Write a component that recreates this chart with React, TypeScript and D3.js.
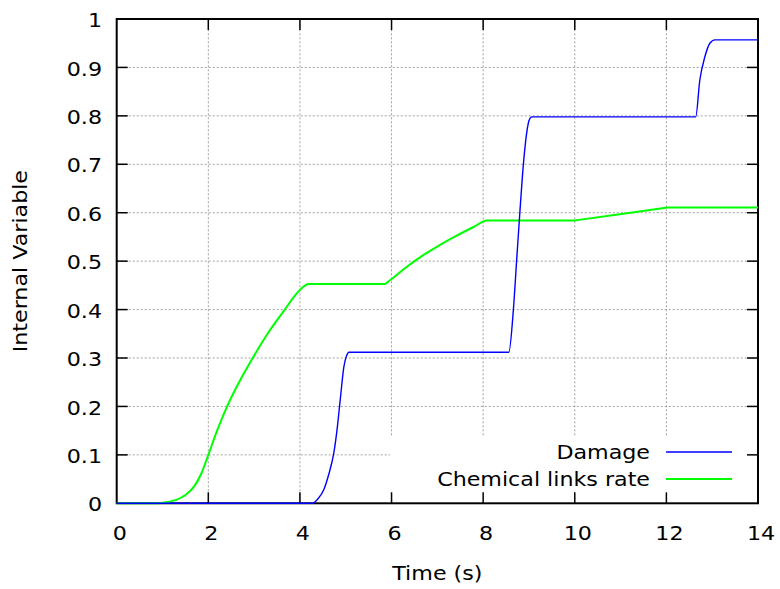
import React from "react";
import * as d3 from "d3";

const xTicks = [0, 2, 4, 6, 8, 10, 12, 14];
const yTicks = [0, 0.1, 0.2, 0.3, 0.4, 0.5, 0.6, 0.7, 0.8, 0.9, 1];
const yTickLabels = ["0", "0.1", "0.2", "0.3", "0.4", "0.5", "0.6", "0.7", "0.8", "0.9", "1"];

const damageT = [0, 4.27, 4.4, 4.52, 4.63, 4.74, 4.82, 4.88, 4.96, 5.02, 5.07, 8.56, 8.66, 8.73, 8.8, 8.88, 8.96, 9.0, 9.06, 12.64, 12.73, 12.84, 12.95, 13.06, 14];
const damageV = [0, 0, 0.01, 0.028, 0.06, 0.104, 0.16, 0.214, 0.282, 0.305, 0.312, 0.312, 0.4, 0.5, 0.599, 0.702, 0.771, 0.79, 0.798, 0.798, 0.874, 0.922, 0.95, 0.957, 0.957];

const chemT = [0, 0.9, 1.3, 1.5, 1.7, 1.85, 2.0, 2.2, 2.41, 2.7, 2.97, 3.3, 3.67, 3.9, 4.05, 4.18, 5.85, 5.97, 6.3, 6.7, 7.05, 7.43, 7.8, 8.08, 10.0, 10.05, 11.99, 12.04, 14];
const chemV = [0, 0, 0.007, 0.017, 0.036, 0.062, 0.1, 0.152, 0.2, 0.255, 0.3, 0.351, 0.4, 0.43, 0.445, 0.453, 0.453, 0.461, 0.486, 0.513, 0.533, 0.553, 0.571, 0.584, 0.584, 0.5847, 0.6103, 0.611, 0.611];

const seriesNames = ["Damage", "Chemical links rate"];
const seriesColors = ["#0000ff", "#00ff00"];

const W = 780;
const H = 589;
const L = 116.7;
const R = 758;
const T = 19;
const B = 503.3;
const FONT = "'DejaVu Sans', sans-serif";
const FS = 20;
const SX = 1.11;

type TProps = { x: number; y: number; anchor: string; rotate?: number; children: React.ReactNode };
function Txt({ x, y, anchor, rotate, children }: TProps) {
  const tr = `translate(${x},${y})${rotate ? ` rotate(${rotate})` : ""} scale(${SX},1)`;
  return (
    <text transform={tr} x={0} y={0} textAnchor={anchor} dominantBaseline="central">
      {children}
    </text>
  );
}

export default function App() {
  const x = d3.scaleLinear().domain([0, 14]).range([L, R]);
  const y = d3.scaleLinear().domain([0, 1]).range([B, T]);
  const line = d3
    .line<[number, number]>()
    .x((d) => x(d[0]))
    .y((d) => y(d[1]))
    .curve(d3.curveMonotoneX);
  const damage: [number, number][] = damageT.map((t, i) => [t, damageV[i]]);
  const chem: [number, number][] = chemT.map((t, i) => [t, chemV[i]]);
  const tickLen = 11;
  const legendBox = { x0: 390, y0: 437 };

  return (
    <div style={{ position: "absolute", left: 0, top: 0 }}>
      <svg width={W} height={H} style={{ display: "block", background: "#fff" }}>
        <rect x={0} y={0} width={W} height={H} fill="#fff" />
        {/* grid */}
        <g stroke="#a0a0a0" strokeWidth={1} strokeDasharray="2,2" fill="none">
          {xTicks.slice(1, -1).map((t) => (
            <line key={"gx" + t} x1={x(t)} x2={x(t)} y1={B} y2={T} />
          ))}
          {yTicks.slice(1, -1).map((t) => (
            <line key={"gy" + t} x1={L} x2={R} y1={y(t)} y2={y(t)} />
          ))}
        </g>
        {/* legend opaque box */}
        <rect x={legendBox.x0} y={legendBox.y0} width={R - legendBox.x0} height={B - legendBox.y0} fill="#fff" />
        {/* ticks */}
        <g stroke="#000" strokeWidth={1.5}>
          {xTicks.slice(1, -1).map((t) => (
            <g key={"tx" + t}>
              <line x1={x(t)} x2={x(t)} y1={B} y2={B - tickLen} />
              <line x1={x(t)} x2={x(t)} y1={T} y2={T + tickLen} />
            </g>
          ))}
          {yTicks.slice(1, -1).map((t) => (
            <g key={"ty" + t}>
              <line x1={L} x2={L + tickLen} y1={y(t)} y2={y(t)} />
              <line x1={R} x2={R - tickLen} y1={y(t)} y2={y(t)} />
            </g>
          ))}
        </g>
        {/* border */}
        <rect x={L} y={T} width={R - L} height={B - T} fill="none" stroke="#000" strokeWidth={2} />
        {/* series */}
        <path d={line(chem) || ""} fill="none" stroke={seriesColors[1]} strokeWidth={2} />
        <path d={line(damage) || ""} fill="none" stroke={seriesColors[0]} strokeWidth={1.4} />
        {/* tick labels */}
        <g fontFamily={FONT} fontSize={FS} fill="#000">
          {xTicks.map((t) => (
            <Txt key={"lx" + t} x={x(t) + 3} y={533} anchor="middle">
              {String(t)}
            </Txt>
          ))}
          {yTicks.map((t, i) => (
            <Txt key={"ly" + t} x={102} y={y(t) + 1} anchor="end">
              {yTickLabels[i]}
            </Txt>
          ))}
          <Txt x={(L + R) / 2} y={573} anchor="middle">
            Time (s)
          </Txt>
          <Txt x={20} y={(T + B) / 2} anchor="middle" rotate={-90}>
            Internal Variable
          </Txt>
        </g>
        {/* legend */}
        <g fontFamily={FONT} fontSize={FS} fill="#000">
          {seriesNames.map((n, i) => {
            const ly = 452 + i * 27;
            return (
              <g key={n}>
                <Txt x={650} y={ly} anchor="end">
                  {n}
                </Txt>
                <line x1={666} x2={732} y1={ly} y2={ly} stroke={seriesColors[i]} strokeWidth={i === 1 ? 2 : 1.4} />
              </g>
            );
          })}
        </g>
      </svg>
    </div>
  );
}
